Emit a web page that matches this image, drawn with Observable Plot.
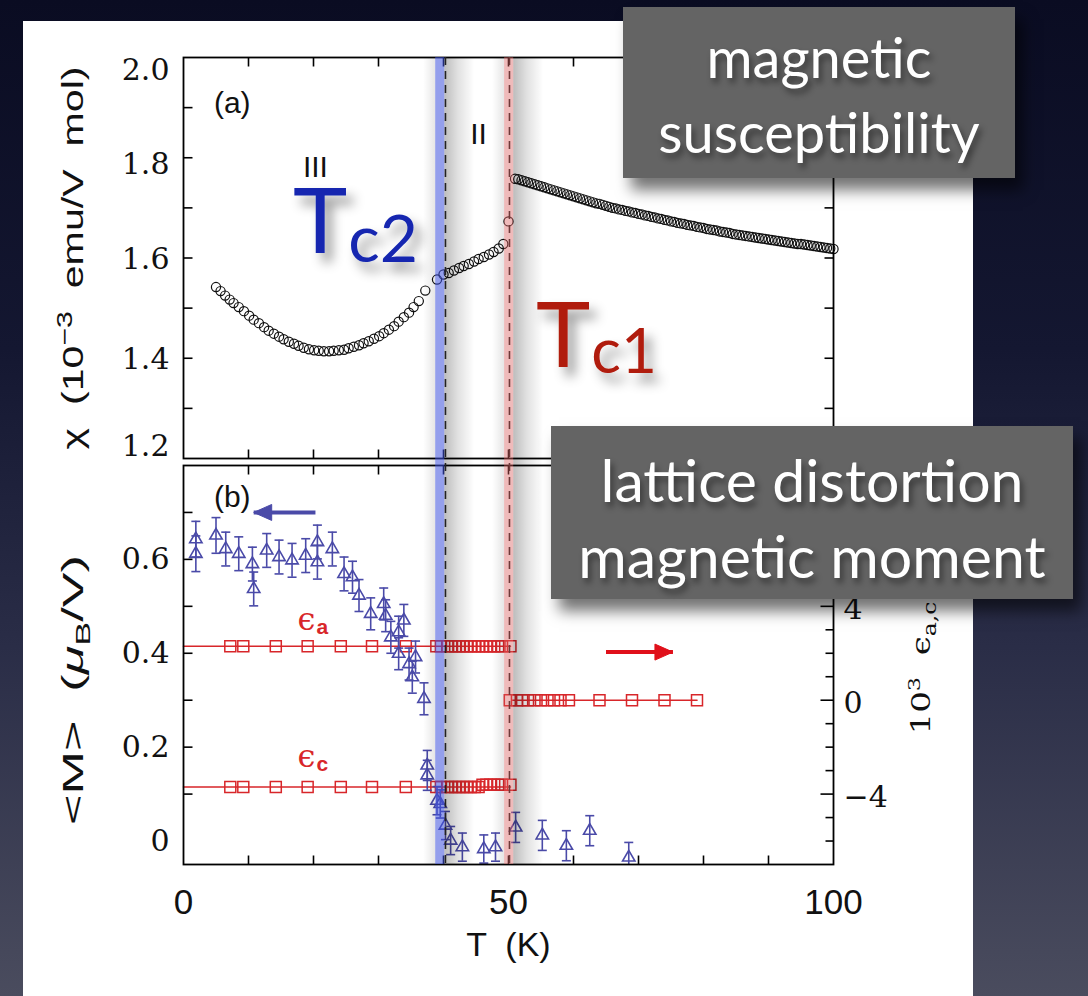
<!DOCTYPE html>
<html>
<head>
<meta charset="utf-8">
<script src="https://cdn.jsdelivr.net/npm/d3@7"></script>
<script src="https://cdn.jsdelivr.net/npm/@observablehq/plot@0.6"></script>
<style>
html,body{margin:0;padding:0;}
body{width:1088px;height:996px;overflow:hidden;position:relative;
  background:linear-gradient(to bottom,#0a0c22 0%,#141731 35%,#2a2d47 65%,#4a4c5e 100%);}
#card{position:absolute;left:23px;top:21px;width:950px;height:980px;background:#fff;}
.layer{position:absolute;left:0;width:1088px;}
.box{position:absolute;background:#646464;color:#fff;font-family:Lato,"Open Sans",sans-serif;
  text-align:center;box-shadow:8px 12px 14px rgba(0,0,0,0.55);text-shadow:3px 5px 6px rgba(0,0,0,0.45);}
.box div{position:absolute;left:0;right:0;white-space:nowrap;}
</style>
</head>
<body>
<div id="card"></div>
<svg width="0" height="0" style="position:absolute">
  <defs>
    <linearGradient id="shGradR" x1="0" y1="0" x2="1" y2="0">
      <stop offset="0" stop-color="#000" stop-opacity="0.26"/>
      <stop offset="0.45" stop-color="#000" stop-opacity="0.12"/>
      <stop offset="1" stop-color="#000" stop-opacity="0"/>
    </linearGradient>
    <linearGradient id="shGradL" x1="1" y1="0" x2="0" y2="0">
      <stop offset="0" stop-color="#000" stop-opacity="0.10"/>
      <stop offset="1" stop-color="#000" stop-opacity="0"/>
    </linearGradient>
  </defs>
</svg>
<div id="epsLayer" class="layer" style="top:462px"></div>
<div id="bottomLayer" class="layer" style="top:462px"></div>
<div id="topLayer" class="layer" style="top:0"></div>
<div id="bandLayer" class="layer" style="top:0"></div>
<svg id="ann" width="1088" height="996" style="position:absolute;left:0;top:0;overflow:visible">
  <defs>
    <filter id="tsh" x="-30%" y="-30%" width="170%" height="170%">
      <feDropShadow dx="7" dy="9" stdDeviation="6" flood-color="#000" flood-opacity="0.42"/>
    </filter>
  </defs>
  <text x="293" y="253" font-family="Lato" font-size="92" fill="#1428b0" filter="url(#tsh)">T<tspan dx="1" dy="9" font-size="66">c2</tspan></text>
  <text x="536" y="367" font-family="Lato" font-size="92" fill="#b01a0c" filter="url(#tsh)">T<tspan dx="1" dy="6" font-size="62">c1</tspan></text>
</svg>
<div class="box" style="left:623px;top:7px;width:392px;height:171px;font-size:56px;">
  <div style="top:16px">magnetic</div><div style="top:91px">susceptibility</div>
</div>
<div class="box" style="left:551px;top:426px;width:522px;height:173px;font-size:59px;">
  <div style="top:18px">lattice distortion</div><div style="top:94px">magnetic moment</div>
</div>
<script>
// ---------------- data ----------------
// (a) magnetic susceptibility chi (1e-3 emu/V mol) vs T (K)
const chiT_III = [5.0,5.7,6.4,7.1,7.7,8.5,9.3,10.1,10.8,11.6,12.4,13.1,13.9,14.7,15.4,16.2,17.0,17.7,18.5,19.3,20.1,20.8,21.6,22.4,23.1,23.9,24.7,25.4,26.2,27.0,27.7,28.5,29.3,30.1,30.8,31.6,32.4,33.1,33.9,34.7,35.4,36.2,37.2];
const chiV_III = [1.542,1.534,1.525,1.517,1.510,1.502,1.494,1.485,1.477,1.470,1.462,1.455,1.449,1.443,1.438,1.433,1.429,1.425,1.421,1.418,1.416,1.415,1.414,1.414,1.415,1.416,1.417,1.420,1.423,1.426,1.430,1.434,1.439,1.444,1.450,1.457,1.464,1.473,1.482,1.491,1.502,1.514,1.535];
const chiT_II = [39.0,40.0,40.8,41.6,42.4,43.1,43.9,44.7,45.4,46.2,47.0,47.7,48.5,49.2,50.0];
const chiV_II = [1.557,1.567,1.570,1.575,1.580,1.584,1.588,1.593,1.598,1.602,1.607,1.612,1.619,1.628,1.673];
const chiT_I = [51.0,51.5,52.0,52.5,53.0,53.5,54.0,54.5,55.0,55.5,56.0,56.5,57.0,57.5,58.0,58.5,59.0,59.5,60.0,60.5,61.0,61.5,62.0,62.5,63.0,63.5,64.0,64.5,65.0,65.5,66.0,66.5,67.0,67.5,68.0,68.5,69.0,69.5,70.0,70.5,71.0,71.5,72.0,72.5,73.0,73.5,74.0,74.5,75.0,75.5,76.0,76.5,77.0,77.5,78.0,78.5,79.0,79.5,80.0,80.5,81.0,81.5,82.0,82.5,83.0,83.5,84.0,84.5,85.0,85.5,86.0,86.5,87.0,87.5,88.0,88.5,89.0,89.5,90.0,90.5,91.0,91.5,92.0,92.5,93.0,93.5,94.0,94.5,95.0,95.5,96.0,96.5,97.0,97.5,98.0,98.5,99.0,99.5,100.0];
const chiV_I = [1.758,1.757,1.755,1.753,1.751,1.749,1.747,1.745,1.743,1.741,1.739,1.737,1.735,1.733,1.731,1.729,1.727,1.725,1.723,1.721,1.719,1.717,1.715,1.713,1.711,1.709,1.708,1.706,1.704,1.702,1.700,1.699,1.697,1.696,1.694,1.693,1.691,1.690,1.688,1.687,1.685,1.684,1.682,1.681,1.679,1.678,1.676,1.675,1.673,1.672,1.670,1.669,1.668,1.666,1.665,1.664,1.662,1.661,1.660,1.658,1.657,1.656,1.655,1.653,1.652,1.651,1.650,1.648,1.647,1.646,1.645,1.644,1.643,1.642,1.641,1.640,1.639,1.638,1.637,1.636,1.635,1.634,1.633,1.632,1.631,1.630,1.629,1.628,1.628,1.627,1.626,1.625,1.624,1.623,1.622,1.621,1.620,1.619,1.618];

// (b) ordered moment <M> (muB/V) with error bars
const momT = [1.9,1.9,5.0,6.5,8.5,10.6,10.8,12.8,14.7,16.7,18.8,20.6,20.6,22.9,24.7,26.0,27.0,28.8,30.8,31.1,31.9,33.1,33.9,33.1,34.7,35.7,35.2,37.0,37.5,37.5,39.0,39.5,40.3,41.1,42.9,46.2,48.0,51.1,55.2,58.9,62.5,68.5];
const momV = [0.643,0.612,0.651,0.622,0.612,0.590,0.537,0.619,0.605,0.598,0.608,0.637,0.594,0.622,0.569,0.562,0.523,0.484,0.505,0.480,0.434,0.445,0.470,0.399,0.377,0.392,0.349,0.303,0.161,0.140,0.086,0.079,0.033,0.001,-0.013,-0.017,-0.013,0.029,0.012,-0.010,0.022,-0.035];
const momErr = [0.038,0.038,0.038,0.036,0.036,0.036,0.036,0.036,0.036,0.036,0.036,0.036,0.036,0.036,0.036,0.034,0.034,0.034,0.034,0.034,0.034,0.034,0.034,0.034,0.034,0.034,0.034,0.034,0.032,0.032,0.030,0.030,0.030,0.030,0.030,0.030,0.030,0.032,0.032,0.032,0.032,0.032];

// lattice distortion 1e3 eps_a, eps_c (right axis)
const epsT_low = [7.2,9.2,14.2,19.1,24.2,29.0,34.2,38.9,39.6,40.6,41.2,41.8,42.4,43.0,43.6,44.2,44.8,45.4,46.0,46.6,47.2,47.8,48.4,49.0,50.3];
const epsA_low = [2.3,2.3,2.3,2.3,2.3,2.3,2.3,2.3,2.3,2.3,2.3,2.3,2.3,2.3,2.3,2.3,2.3,2.3,2.3,2.3,2.3,2.3,2.3,2.3,2.3];
const epsC_low = [-3.7,-3.7,-3.7,-3.7,-3.7,-3.7,-3.7,-3.7,-3.7,-3.7,-3.7,-3.7,-3.7,-3.7,-3.7,-3.7,-3.7,-3.7,-3.6,-3.6,-3.6,-3.6,-3.6,-3.6,-3.6];
const epsT_high = [50.2,51.3,52.1,53.0,54.0,55.0,56.0,57.0,58.0,59.3,64.0,69.0,74.0,79.0];
const eps_high = [0,0,0,0,0,0,0,0,0,0,0,0,0,0];
// fitted lines
const fitA_T = [0,50.3], fitA_V = [2.3,2.3];
const fitC_T = [0,50.3], fitC_V = [-3.7,-3.7];
const fitH_T = [50.5,79.0], fitH_V = [0,0];

// transitions
const bandNames = ["Tc2","Tc1"];
const bandLo = [38.8,49.4];
const bandHi = [40.2,50.8];
const transT = [40.3,50.15];

// ticks
const xTicks = [10,20,30,40,50,60,70,80,90];
const xTickLabels = [0,50,100];
const chiTicks = [1.3,1.4,1.5,1.6,1.7,1.8,1.9];
const chiTickLabels = [1.2,1.4,1.6,1.8,2.0];
const momTicks = [0.1,0.2,0.3,0.4,0.5,0.6,0.7];
const momTickLabels = [0,0.2,0.4,0.6];
const epsMinor = [-6,-5,-3,-2,-1,1,2,3,5,6,7,9];
const epsMajor = [-4,0,4,8];
const epsTickLabels = [-4,0,4];

// annotations
const labelsA = [{text:"(a)",T:7.5,v:1.908},{text:"III",T:20.3,v:1.780},{text:"II",T:45.4,v:1.846}];
const labelsB = [{text:"(b)",T:7.5,v:0.732}];
const arrowB = [{tail:20.3,tip:10.8,v:0.70}];
const arrowE = [{tail:65.0,tip:75.3,v:2.05}];
const epsLabels = [{sym:"ϵ",sub:"a",T:18.9,v:3.41},{sym:"ϵ",sub:"c",T:18.9,v:-2.43}];

// ---------------- build ----------------
const zip = (a,b,k1,k2) => a.map((d,i)=>({[k1]:d,[k2]:b[i]}));
const chi = [...zip(chiT_III,chiV_III,"T","v"),...zip(chiT_II,chiV_II,"T","v"),...zip(chiT_I,chiV_I,"T","v")];
const mom = momT.map((t,i)=>({T:t,v:momV[i],e:momErr[i]}));
const epsA = zip(epsT_low,epsA_low,"T","v");
const epsC = zip(epsT_low,epsC_low,"T","v");
const epsH = zip(epsT_high,eps_high,"T","v");
const fits = [zip(fitA_T,fitA_V,"T","v"),zip(fitC_T,fitC_V,"T","v"),zip(fitH_T,fitH_V,"T","v")];
const bands = bandNames.map((n,i)=>({name:n,lo:bandLo[i],hi:bandHi[i]}));

const BLUE = "#4a4aa8", RED = "#d8262a";
const seg = (dx,dy) => ({draw(c){c.moveTo(0,0);c.lineTo(dx,dy);}});
const cap = {draw(c){c.moveTo(-4.5,0);c.lineTo(4.5,0);}};
const headL = {draw(c){c.moveTo(0,0);c.lineTo(18,-8);c.lineTo(18,8);c.closePath();}};
const headR = {draw(c){c.moveTo(0,0);c.lineTo(-18,-8);c.lineTo(-18,8);c.closePath();}};
const TK = {fill:"none",stroke:"black",strokeWidth:1.6};
const geom = {width:1088,marginLeft:183,marginRight:255};
const SERIF = "DejaVu Serif", SANS = "Liberation Sans";

function richText(svg, plain, html, len){
  svg.querySelectorAll("text").forEach(t=>{
    if(t.textContent===plain){
      t.innerHTML = html;
      t.setAttribute("text-anchor","middle");
      t.style.whiteSpace="pre";
      if(len){ t.setAttribute("textLength",len); t.setAttribute("lengthAdjust","spacingAndGlyphs"); }
    }
  });
}
const chiLabelAxis = (vals,dy) => Plot.axisY(vals,{anchor:"left",tickSize:0,tickPadding:14,dy,fontSize:30,fontFamily:SERIF,tickFormat:d=>d.toFixed(1),label:null,fill:"#111"});

// top panel (a)
const topPlot = Plot.plot({
  ...geom, height:462, marginTop:57, marginBottom:4,
  style:{background:"transparent",overflow:"visible"},
  x:{domain:[0,100],axis:null}, y:{domain:[1.2,2.0],axis:null},
  marks:[
    Plot.dot(chi,{x:"T",y:"v",r:4.6,stroke:"#111",strokeWidth:1.2,fill:"none"}),
    Plot.dot(chiTicks,{y:d=>d,frameAnchor:"left",symbol:seg(9,0),...TK}),
    Plot.dot(chiTicks,{y:d=>d,frameAnchor:"right",symbol:seg(-9,0),...TK}),
    Plot.dot(xTicks,{x:d=>d,frameAnchor:"top",symbol:seg(0,9),...TK}),
    Plot.dot(xTicks,{x:d=>d,frameAnchor:"bottom",symbol:seg(0,-9),...TK}),
    chiLabelAxis(chiTickLabels.filter(d=>d===2.0),13),
    chiLabelAxis(chiTickLabels.filter(d=>d===1.8),7),
    chiLabelAxis(chiTickLabels.filter(d=>d===1.6||d===1.4),1),
    chiLabelAxis(chiTickLabels.filter(d=>d===1.2),-12),
    Plot.text(labelsA,{x:"T",y:"v",text:"text",fontSize:30,fontFamily:SANS,fill:"#111"}),
    Plot.text(["χ (10−3 emu/V mol)"],{frameAnchor:"left",rotate:-90,dx:-110,fontSize:30,fontFamily:SANS,fill:"#111"}),
    Plot.frame({stroke:"black",strokeWidth:1.8})
  ]
});
richText(topPlot,"χ (10−3 emu/V mol)",'χ  (10<tspan baseline-shift="11" font-size="22">−3</tspan>  emu/V  mol)',383);
document.getElementById("topLayer").append(topPlot);

// bottom panel (b) : ordered moment, left axis
const bottomPlot = Plot.plot({
  ...geom, height:534, marginTop:3, marginBottom:132,
  style:{background:"transparent",overflow:"visible"},
  x:{domain:[0,100],axis:null}, y:{domain:[-0.05,0.8],axis:null},
  marks:[
    Plot.ruleX(mom,{x:"T",y1:d=>d.v-d.e,y2:d=>d.v+d.e,stroke:BLUE,strokeWidth:1.6,clip:true}),
    Plot.dot(mom,{x:"T",y:d=>d.v+d.e,symbol:cap,stroke:BLUE,strokeWidth:1.6,fill:"none",clip:true}),
    Plot.dot(mom,{x:"T",y:d=>d.v-d.e,symbol:cap,stroke:BLUE,strokeWidth:1.6,fill:"none",clip:true}),
    Plot.dot(mom,{x:"T",y:"v",symbol:"triangle",r:4.6,stroke:BLUE,strokeWidth:1.6,fill:"none"}),
    Plot.dot(momTicks,{y:d=>d,frameAnchor:"left",symbol:seg(9,0),...TK}),
    Plot.dot(xTicks,{x:d=>d,frameAnchor:"top",symbol:seg(0,9),...TK}),
    Plot.dot(xTicks,{x:d=>d,frameAnchor:"bottom",symbol:seg(0,-9),...TK}),
    Plot.axisY(momTickLabels,{anchor:"left",tickSize:0,tickPadding:14,fontSize:30,fontFamily:SERIF,tickFormat:d=>d===0?"0":d.toFixed(1),label:null,fill:"#111"}),
    Plot.axisX(xTickLabels,{anchor:"bottom",tickSize:0,tickPadding:25,fontSize:35,fontFamily:SANS,label:null,fill:"#111"}),
    Plot.text(["T (K)"],{frameAnchor:"bottom",dy:91,fontSize:34,fontFamily:SANS,fill:"#111"}),
    Plot.text(["<M> (μB/V)"],{frameAnchor:"left",rotate:-90,dx:-110,dy:25,fontSize:29,fontFamily:SANS,fill:"#111"}),
    Plot.text(labelsB,{x:"T",y:"v",text:"text",fontSize:30,fontFamily:SANS,fill:"#111"}),
    Plot.link(arrowB,{x1:"tail",x2:"tip",y1:"v",y2:"v",stroke:BLUE,strokeWidth:4}),
    Plot.dot(arrowB,{x:"tip",y:"v",symbol:headL,fill:BLUE,stroke:BLUE,strokeWidth:1}),
    Plot.frame({stroke:"black",strokeWidth:1.8})
  ]
});
richText(bottomPlot,"T (K)",'T  (K)');
richText(bottomPlot,"<M> (μB/V)",'&lt;M&gt;  (<tspan font-style="italic">μ</tspan><tspan baseline-shift="-7" font-size="20">B</tspan>/V)',270);
document.getElementById("bottomLayer").append(bottomPlot);

// bottom panel (b) : lattice distortion, right axis
const epsPlot = Plot.plot({
  ...geom, height:534, marginTop:3, marginBottom:132,
  style:{background:"transparent",overflow:"visible"},
  x:{domain:[0,100],axis:null}, y:{domain:[-7,10],axis:null},
  marks:[
    ...fits.map(f=>Plot.line(f,{x:"T",y:"v",stroke:RED,strokeWidth:1.6})),
    Plot.dot(epsA,{x:"T",y:"v",symbol:"square",r:6.2,stroke:RED,strokeWidth:1.5,fill:"none"}),
    Plot.dot(epsC,{x:"T",y:"v",symbol:"square",r:6.2,stroke:RED,strokeWidth:1.5,fill:"none"}),
    Plot.dot(epsH,{x:"T",y:"v",symbol:"square",r:6.2,stroke:RED,strokeWidth:1.5,fill:"none"}),
    Plot.dot(epsMinor,{y:d=>d,frameAnchor:"right",symbol:seg(-8,0),...TK}),
    Plot.dot(epsMajor,{y:d=>d,frameAnchor:"right",symbol:seg(-13,0),...TK}),
    Plot.axisY(epsTickLabels,{anchor:"right",tickSize:0,tickPadding:10,dy:3,fontSize:30,fontFamily:SERIF,tickFormat:d=>d<0?"−"+Math.abs(d):String(d),label:null,fill:"#111"}),
    Plot.text(["10³ ϵa,c"],{frameAnchor:"right",rotate:-90,dx:88,dy:3,fontSize:26,fontFamily:SERIF,fill:"#111"}),
    Plot.text(epsLabels,{x:"T",y:"v",text:"sym",fontSize:32,fontFamily:SERIF,fill:RED}),
    Plot.text(epsLabels,{x:"T",y:"v",text:"sub",dx:16,dy:7,fontSize:21,fontWeight:"bold",fontFamily:SANS,fill:RED}),
    Plot.link(arrowE,{x1:"tail",x2:"tip",y1:"v",y2:"v",stroke:"#e0101a",strokeWidth:4}),
    Plot.dot(arrowE,{x:"tip",y:"v",symbol:headR,fill:"#e0101a",stroke:"#e0101a",strokeWidth:1})
  ]
});
richText(epsPlot,"10³ ϵa,c",'10<tspan baseline-shift="10" font-size="17">3</tspan>  ϵ<tspan baseline-shift="-6" font-size="18">a,c</tspan>',133);
document.getElementById("epsLayer").append(epsPlot);

// transition bands spanning both panels (with soft shadow to the right)
const bandPlot = Plot.plot({
  ...geom, height:996, marginTop:57, marginBottom:132,
  style:{background:"transparent",overflow:"visible"},
  x:{domain:[0,100],axis:null},
  marks:[
    Plot.rect(bands,{x1:"hi",x2:"hi",insetRight:-30,fill:"url(#shGradR)"}),
    Plot.rect(bands,{x1:"lo",x2:"lo",insetLeft:-12,fill:"url(#shGradL)"}),
    Plot.ruleX(transT,{x:d=>d,stroke:"#222",strokeWidth:1.6,strokeDasharray:"8,6"}),
    Plot.rect(bands,{x1:"lo",x2:"hi",fill:d=>d.name==="Tc2"?"#3c50dc":"#d85a5a",fillOpacity:d=>d.name==="Tc2"?0.55:0.42})
  ]
});
document.getElementById("bandLayer").append(bandPlot);
</script>
</body>
</html>
